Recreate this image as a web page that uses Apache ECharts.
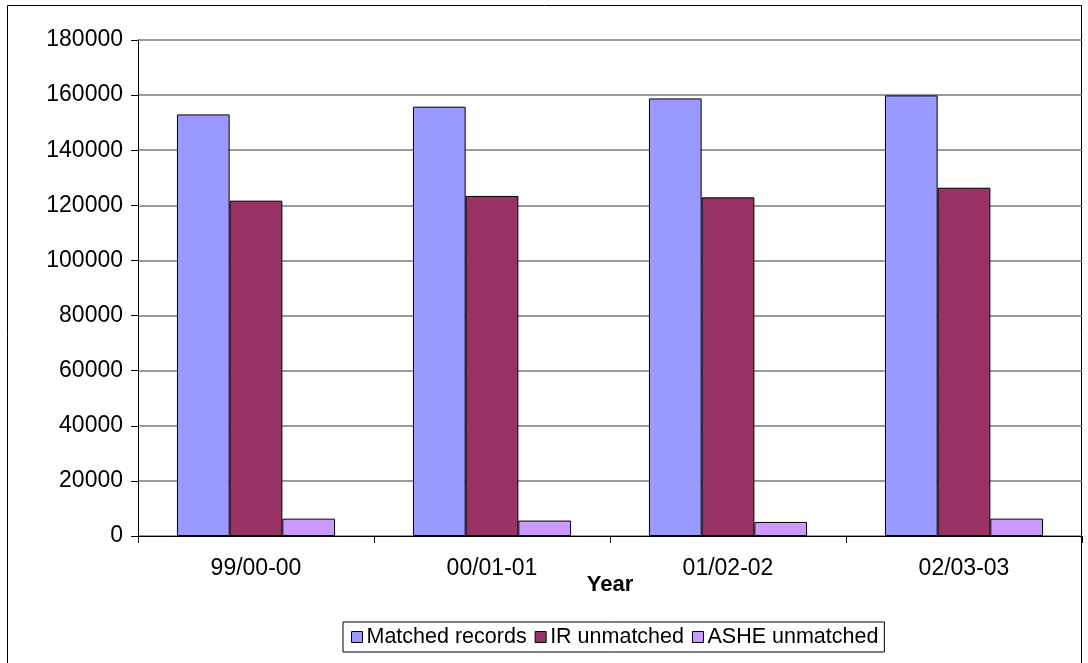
<!DOCTYPE html>
<html><head><meta charset="utf-8">
<script src="https://cdn.jsdelivr.net/npm/echarts@6/dist/echarts.min.js"></script>
<style>html,body{margin:0;padding:0;background:#fff}#c{width:1088px;height:663px}</style>
</head><body><div id="c"></div>
<script>
const categories = ['99/00-00', '00/01-01', '01/02-02', '02/03-03'];
const matchedRecords = [153000, 155800, 158800, 159900];
const irUnmatched = [121700, 123400, 122900, 126400];
const asheUnmatched = [6300, 5600, 5100, 6300];
const yTicks = { min: 0, max: 180000, interval: 20000 };

const font = 'Liberation Sans, Arial, sans-serif';
const chart = echarts.init(document.getElementById('c'), null, { renderer: 'canvas' });
const mk = (name, data, color) => ({
  name, type: 'bar', data, barGap: 0, barCategoryGap: '33%',
  itemStyle: { color, borderColor: '#000', borderWidth: 1 },
  emphasis: { disabled: true }
});
chart.setOption({
  animation: false,
  textStyle: { fontFamily: font },
  graphic: [{ type: 'rect', shape: { x: 7.5, y: 5.5, width: 1074, height: 700 },
    style: { fill: 'none', stroke: '#000', lineWidth: 1 }, z: -1 }],
  grid: { left: 138, right: 6, top: 40, bottom: 127 },
  legend: {
    left: 343, top: 622, itemWidth: 11, itemHeight: 11, itemGap: 8,
    padding: [4, 6, 4, 8], borderColor: '#000', borderWidth: 1,
    textStyle: { fontSize: 21.5, color: '#000', fontFamily: font, padding: [0, 0, 0, -1] },
    icon: 'rect',
    itemStyle: { borderColor: '#000', borderWidth: 1 },
    data: ['Matched records', 'IR unmatched', 'ASHE unmatched']
  },
  xAxis: {
    type: 'category', data: categories,
    name: 'Year', nameLocation: 'middle', nameGap: 38, nameMoveOverlap: false,
    nameTextStyle: { fontSize: 22, fontWeight: 'bold', color: '#000', fontFamily: font },
    axisLine: { lineStyle: { color: '#000', width: 1 } },
    axisTick: { show: true, length: 7, lineStyle: { color: '#000' } },
    axisLabel: { fontSize: 23, color: '#000', margin: 21, fontFamily: font }
  },
  yAxis: {
    type: 'value', min: yTicks.min, max: yTicks.max, interval: yTicks.interval,
    axisLine: { show: true, lineStyle: { color: '#000', width: 1 } },
    axisTick: { show: true, length: 7, lineStyle: { color: '#000' } },
    axisLabel: { fontSize: 23, color: '#000', margin: 15, fontFamily: font, formatter: v => String(v) },
    splitLine: { lineStyle: { color: '#777', width: 1.5 } }
  },
  series: [
    mk('Matched records', matchedRecords, '#9999FF'),
    mk('IR unmatched', irUnmatched, '#993366'),
    mk('ASHE unmatched', asheUnmatched, '#CC99FF')
  ]
});
</script></body></html>
